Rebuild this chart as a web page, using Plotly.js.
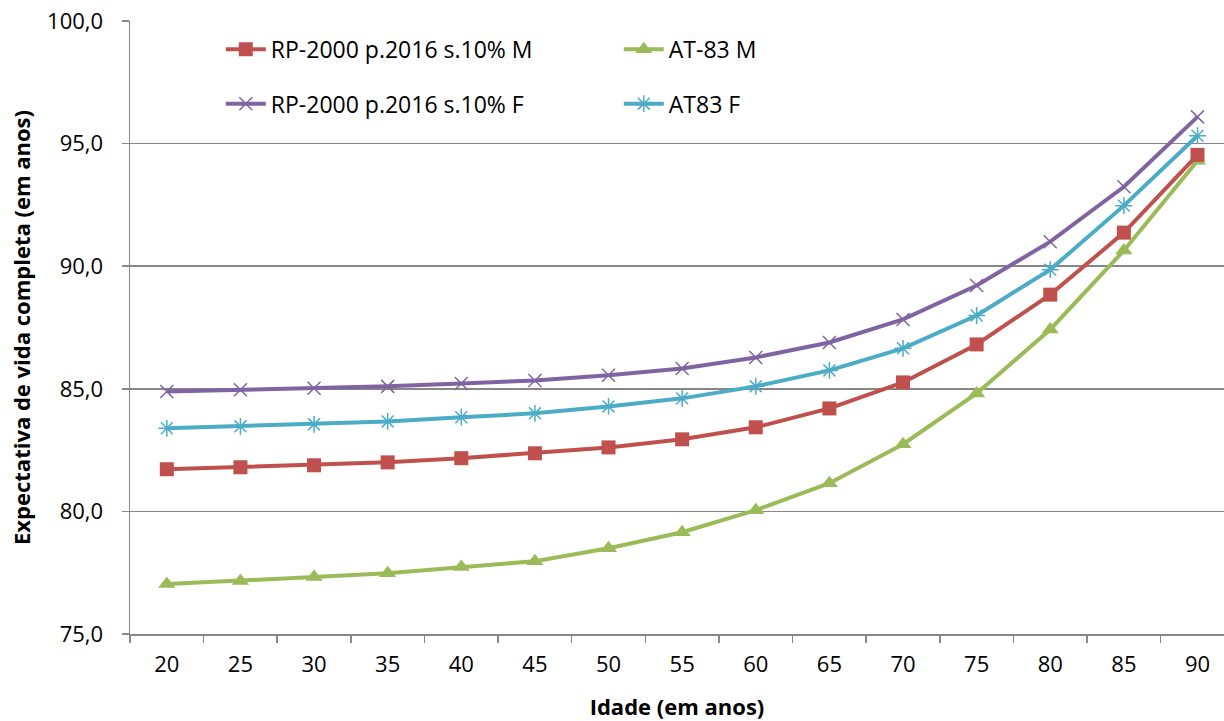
<!DOCTYPE html>
<html>
<head>
<meta charset="utf-8">
<script src="https://cdn.plot.ly/plotly-3.0.1.min.js"></script>
<style>html,body{margin:0;padding:0;background:#fff;} #chart{width:1224px;height:721px;}</style>
</head>
<body>
<div id="chart"></div>
<script>
const idades = ["20","25","30","35","40","45","50","55","60","65","70","75","80","85","90"];
const rpM  = [81.72,81.80,81.88,82.00,82.17,82.37,82.61,82.94,83.43,84.20,85.26,86.81,88.84,91.37,94.54];
const at83M = [77.04,77.16,77.32,77.48,77.73,77.97,78.50,79.15,80.05,81.15,82.74,84.81,87.42,90.64,94.30];
const rpF  = [84.89,84.96,85.02,85.10,85.22,85.34,85.55,85.83,86.28,86.89,87.83,89.21,91.00,93.24,96.09];
const at83F = [83.39,83.47,83.55,83.67,83.84,84.00,84.28,84.61,85.10,85.75,86.65,87.99,89.86,92.47,95.32];
const nomes = ["RP-2000 p.2016 s.10% M","AT-83 M","RP-2000 p.2016 s.10% F","AT83 F"];
const yTicks = [75,80,85,90,95,100];

const FONT = "Open Sans, Lato, sans-serif";
const traces = [
  {x: idades, y: at83M, name: nomes[1], legend: "legend", type: "scatter", mode: "lines+markers",
   line: {color: "#9BBB59", width: 4}, marker: {symbol: "triangle-up", size: 15, color: "#9BBB59"}},
  {x: idades, y: rpM, name: nomes[0], legend: "legend", type: "scatter", mode: "lines+markers",
   line: {color: "#C0504D", width: 4}, marker: {symbol: "square", size: 14, color: "#C0504D"}},
  {x: idades, y: at83F, name: nomes[3], legend: "legend2", type: "scatter", mode: "lines+markers",
   line: {color: "#4BACC6", width: 4}, marker: {symbol: "asterisk-open", size: 14, color: "#4BACC6", line: {color: "#4BACC6", width: 1.5}}},
  {x: idades, y: rpF, name: nomes[2], legend: "legend2", type: "scatter", mode: "lines+markers",
   line: {color: "#8064A2", width: 4}, marker: {symbol: "x-thin-open", size: 13, color: "#8064A2", line: {color: "#8064A2", width: 1.5}}}
];

const legBase = {
  orientation: "h", xanchor: "left", yanchor: "middle", x: 0.083,
  bgcolor: "rgba(0,0,0,0)", font: {family: FONT, size: 23, color: "#000"},
  itemwidth: 40, entrywidth: 343, entrywidthmode: "pixels", traceorder: "reversed"
};

const layout = {
  width: 1224, height: 721,
  margin: {l: 130, r: 0, t: 21, b: 87},
  paper_bgcolor: "#fff", plot_bgcolor: "#fff",
  separators: ",.",
  font: {family: FONT, size: 22, color: "#000"},
  showlegend: true,
  legend: Object.assign({}, legBase, {y: 0.954}),
  legend2: Object.assign({}, legBase, {y: 0.865}),
  xaxis: {
    type: "category", range: [-0.5, 14.36],
    tickson: "boundaries", ticks: "outside", ticklen: 7, tickcolor: "#878787", tickwidth: 1.5,
    showline: true, linecolor: "#878787", linewidth: 1.5, showgrid: false, zeroline: false,
    tickfont: {family: FONT, size: 22}, ticklabelstandoff: 10,
    title: {text: "<b>Idade (em anos)</b>", font: {family: FONT, size: 22}, standoff: 25}
  },
  yaxis: {
    range: [75, 100], tickvals: yTicks, tickformat: ".1f",
    ticks: "outside", ticklen: 7, tickcolor: "#878787", tickwidth: 1.5,
    showline: true, linecolor: "#878787", linewidth: 1.5,
    showgrid: true, gridcolor: "#878787", gridwidth: 1.5, zeroline: false,
    tickfont: {family: FONT, size: 22}, ticklabelstandoff: 14,
    title: {text: "<b>Expectativa de vida completa (em anos)</b>", font: {family: FONT, size: 22}, standoff: 10}
  }
};

Plotly.newPlot("chart", traces, layout, {displayModeBar: false, staticPlot: true});
</script>
</body>
</html>
